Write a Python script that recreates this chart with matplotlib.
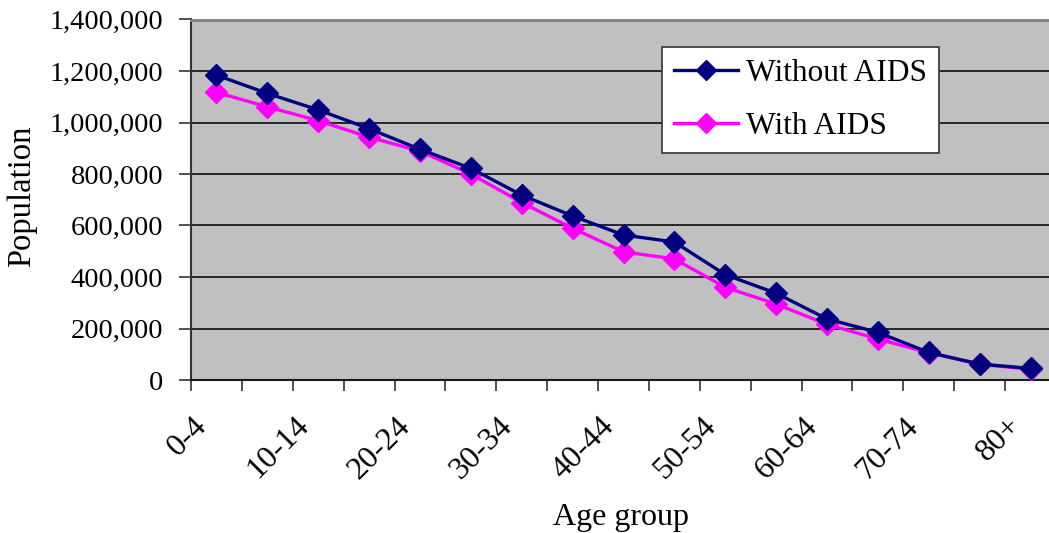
import matplotlib
matplotlib.use("Agg")
import matplotlib.pyplot as plt
from matplotlib.ticker import FuncFormatter
from matplotlib.transforms import ScaledTranslation
import numpy as np

# Age groups and population projections
age_groups = ["0-4", "5-9", "10-14", "15-19", "20-24", "25-29", "30-34", "35-39",
              "40-44", "45-49", "50-54", "55-59", "60-64", "65-69", "70-74",
              "75-79", "80+"]
without_aids = [1184000, 1113000, 1049000, 976000, 896000, 822000, 718000, 637000,
                563000, 536000, 409000, 337000, 237000, 185000, 107000, 62000, 45000]
with_aids = [1117000, 1061000, 1007000, 943000, 889000, 800000, 689000, 589000,
             498000, 470000, 360000, 295000, 216000, 159000, 106000, 61000, 42000]
y_ticks = [0, 200000, 400000, 600000, 800000, 1000000, 1200000, 1400000]

plt.rcParams["font.family"] = ["Liberation Serif", "DejaVu Serif"]

W, H = 1049, 533
fig = plt.figure(figsize=(W / 100, H / 100), dpi=100)
fig.patch.set_facecolor("white")

left, right, top, bottom = 191, 1056, 19.5, 380
ax = fig.add_axes([left / W, 1 - bottom / H, (right - left) / W, (bottom - top) / H])
ax.set_facecolor("#C0C0C0")

x = np.arange(len(age_groups))
ax.plot(x, without_aids, color="#000080", lw=2.4, marker="D", ms=11,
        mec="#000080", mfc="#000080", label="Without AIDS", zorder=4)
ax.plot(x, with_aids, color="#FF00FF", lw=2.4, marker="D", ms=11,
        mec="#FF00FF", mfc="#FF00FF", label="With AIDS", zorder=3)

ax.set_xlim(-0.5, len(age_groups) - 0.5)
ax.set_ylim(0, 1400000)

ax.set_yticks(y_ticks)
ax.yaxis.set_major_formatter(FuncFormatter(lambda v, p: f"{int(v):,}"))
ax.grid(axis="y", color="#1a1a1a", lw=1.3)
ax.set_axisbelow(True)

# category boundary ticks, labels on every other category
ax.set_xticks(np.arange(-0.5, len(age_groups)), labels=[])
ax.set_xticks(x[::2], labels=age_groups[::2], minor=True)
ax.tick_params(axis="x", which="major", length=8, width=1.2, color="#333333", direction="out")
ax.tick_params(axis="x", which="minor", length=0, pad=14, labelsize=23)
shift = ScaledTranslation(-14 / 100, -22 / 100, fig.dpi_scale_trans)
for lbl in ax.get_xticklabels(minor=True):
    lbl.set_rotation(45)
    lbl.set_rotation_mode("anchor")
    lbl.set_ha("right")
    lbl.set_va("center")
    lbl.set_transform(lbl.get_transform() + shift)
ax.tick_params(axis="y", length=9, width=1.2, color="#333333", pad=11, labelsize=20.5)

for side in ["top", "right"]:
    ax.spines[side].set_color("#808080")
    ax.spines[side].set_linewidth(2)
ax.spines["left"].set_color("#333333")
ax.spines["left"].set_linewidth(1.5)
ax.spines["bottom"].set_color("#1a1a1a")
ax.spines["bottom"].set_linewidth(1.5)

fig.text(22 / W, 1 - 196 / H, "Population", rotation=90, ha="center", va="center", fontsize=23.5)
fig.text(621 / W, 1 - 517 / H, "Age group", ha="center", va="center", fontsize=23)

leg = ax.legend(loc="upper left", bbox_to_anchor=(661.7 / W, 1 - 47.3 / H),
                bbox_transform=fig.transFigure, borderaxespad=0, fontsize=22.6,
                handlelength=2.05, handletextpad=0.25, borderpad=0.38,
                labelspacing=0.75, fancybox=False, framealpha=1)
leg.get_frame().set_edgecolor("#404040")
leg.get_frame().set_linewidth(1.3)
leg.get_frame().set_facecolor("white")
for lh in leg.legend_handles:
    lh.set_markersize(10)

fig.savefig("out.png", dpi=100)
